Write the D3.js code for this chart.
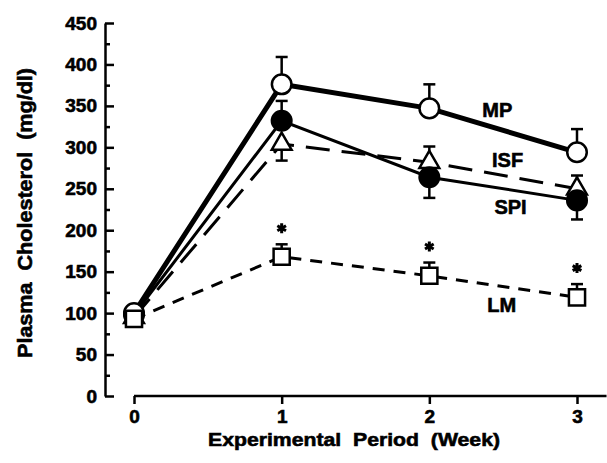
<!DOCTYPE html>
<html>
<head>
<meta charset="utf-8">
<script src="https://cdn.jsdelivr.net/npm/d3@7"></script>
<style>
  html, body { margin: 0; padding: 0; background: #fff; }
  svg { display: block; font-family: "Liberation Sans", Arial, Helvetica, sans-serif; font-weight: bold; }
  svg text { stroke: #000; stroke-width: 0.6px; }
</style>
</head>
<body>
<div id="chart"></div>
<script>
// data (mean, one-sided SE bar)
var weeks = [0, 1, 2, 3];
var mp_values  = [100, 376, 347, 294],
    mp_err     = [0, 33, 29, 28],
    mp_dir     = [1, 1, 1, 1];
var spi_values = [98, 332, 264, 236],
    spi_err    = [0, 24, 25, 23],
    spi_dir    = [1, 1, -1, -1];
var isf_values = [95, 304, 282, 250],
    isf_err    = [0, 20, 19, 16],
    isf_dir    = [-1, -1, 1, 1];
var lm_values  = [93, 168, 145, 119],
    lm_err     = [0, 15, 16, 16],
    lm_dir     = [1, 1, 1, 1];
var lm_signif  = [false, true, true, true];

var y_ticks = [0, 50, 100, 150, 200, 250, 300, 350, 400, 450],
    y_minor = [25, 75, 125, 175, 225, 275, 325, 375, 425],
    x_ticks = [0, 1, 2, 3];

// where the series names sit, in data units
var label_names = ["MP", "ISF", "SPI", "LM"],
    label_week  = [2.46, 2.53, 2.55, 2.49],
    label_value = [345, 285, 228, 110];

var svg_width = 607,
    svg_height = 463;

var x = d3.scaleLinear().domain([0, 3]).range([134, 577]);
var y = d3.scaleLinear().domain([0, 450]).range([396, 23]);

var svg = d3.select("#chart").append("svg")
    .attr("width", svg_width)
    .attr("height", svg_height);

// y axis: ticks point into the plot, labels on the left
var yAxis = svg.append("g")
    .attr("transform", "translate(105,0)")
    .call(d3.axisLeft(y).tickValues(y_ticks).tickSizeInner(-9).tickSizeOuter(0).tickPadding(8));
yAxis.select(".domain").attr("stroke-width", 2.5);
yAxis.selectAll(".tick line").attr("stroke-width", 2.5);
yAxis.selectAll(".tick text")
    .attr("font-size", "19px")
    .attr("font-weight", "bold")
    .attr("font-family", "Liberation Sans, Arial, sans-serif")
    .attr("fill", "#000");

svg.append("g")
    .attr("transform", "translate(105,0)")
    .call(d3.axisLeft(y).tickValues(y_minor).tickSizeInner(-5).tickSizeOuter(0).tickFormat(""))
    .call(function (g) {
        g.select(".domain").remove();
        g.selectAll(".tick line").attr("stroke-width", 2.5);
    });

// x axis: detached line that runs past week 3
var xAxis = svg.append("g")
    .attr("transform", "translate(0,396)")
    .call(d3.axisBottom(x).tickValues(x_ticks).tickSize(8).tickPadding(6).tickFormat(d3.format("d")));
xAxis.select(".domain").remove();
xAxis.selectAll(".tick line").attr("stroke-width", 2.5);
xAxis.selectAll(".tick text")
    .attr("font-size", "19px")
    .attr("font-weight", "bold")
    .attr("font-family", "Liberation Sans, Arial, sans-serif")
    .attr("fill", "#000");
xAxis.append("line")
    .attr("x1", x(0)).attr("x2", x(3.2))
    .attr("y1", 0).attr("y2", 0)
    .attr("stroke", "#000")
    .attr("stroke-width", 2.5);

// axis titles
svg.append("text")
    .attr("x", 354)
    .attr("y", 446)
    .attr("text-anchor", "middle")
    .attr("font-size", "19px")
    .attr("textLength", 292)
    .attr("lengthAdjust", "spacingAndGlyphs")
    .style("white-space", "pre")
    .text("Experimental  Period  (Week)");

svg.append("text")
    .attr("transform", "translate(32,213) rotate(-90)")
    .attr("text-anchor", "middle")
    .attr("font-size", "20px")
    .attr("textLength", 290)
    .attr("lengthAdjust", "spacingAndGlyphs")
    .style("white-space", "pre")
    .text("Plasma  Cholesterol  (mg/dl)");

var series = [
    {name: "ISF", values: isf_values, err: isf_err, dir: isf_dir, width: 3, dash: "24,12", mark: "triangle", fill: "#fff"},
    {name: "SPI", values: spi_values, err: spi_err, dir: spi_dir, width: 3, dash: null,    mark: "circle",   fill: "#000"},
    {name: "MP",  values: mp_values,  err: mp_err,  dir: mp_dir,  width: 5, dash: null,    mark: "circle",   fill: "#fff"},
    {name: "LM",  values: lm_values,  err: lm_err,  dir: lm_dir,  width: 3, dash: "12,9",  mark: "square",   fill: "#fff"}
];

var line = d3.line()
    .x(function (d, i) { return x(weeks[i]); })
    .y(function (d) { return y(d); });

// lines first
for (var i = 0; i < series.length; i++) {
    var s = series[i];
    svg.append("path")
        .attr("d", line(s.values))
        .attr("fill", "none")
        .attr("stroke", "#000")
        .attr("stroke-width", s.width)
        .attr("stroke-dasharray", s.dash);
}

// error bars
for (var i = 0; i < series.length; i++) {
    var s = series[i];
    for (var j = 0; j < weeks.length; j++) {
        if (!s.err[j]) continue;
        var end = s.values[j] + s.dir[j] * s.err[j];
        var g = svg.append("g").attr("stroke", "#000").attr("stroke-width", 2.5);
        g.append("line")
            .attr("x1", x(weeks[j])).attr("x2", x(weeks[j]))
            .attr("y1", y(s.values[j])).attr("y2", y(end));
        g.append("line")
            .attr("x1", x(weeks[j]) - 6).attr("x2", x(weeks[j]) + 6)
            .attr("y1", y(end)).attr("y2", y(end));
    }
}

// markers, drawn so the square sits on top at week 0
var symbolType = {circle: d3.symbolCircle, triangle: d3.symbolTriangle, square: d3.symbolSquare};
var symbolSize = {circle: 300, triangle: 170, square: 260};
for (var i = 0; i < series.length; i++) {
    var s = series[i];
    svg.append("g").selectAll("path")
        .data(s.values)
        .enter().append("path")
        .attr("transform", function (d, j) { return "translate(" + x(weeks[j]) + "," + y(d) + ")"; })
        .attr("d", d3.symbol().type(symbolType[s.mark]).size(symbolSize[s.mark]))
        .attr("fill", s.fill)
        .attr("stroke", "#000")
        .attr("stroke-width", 2.5);
}

// significance marks over LM
var star = d3.symbol().type(d3.symbolAsterisk || d3.symbolCross).size(70);
svg.append("g").selectAll("path")
    .data(weeks.filter(function (w, j) { return lm_signif[j]; }))
    .enter().append("path")
    .attr("transform", function (w) {
        var j = weeks.indexOf(w);
        return "translate(" + x(w) + "," + (y(lm_values[j] + lm_err[j]) - 16) + ")";
    })
    .attr("d", star)
    .attr("fill", "none")
    .attr("stroke", "#000")
    .attr("stroke-width", 3);

// series names
svg.append("g").selectAll("text")
    .data(label_names)
    .enter().append("text")
    .attr("x", function (d, i) { return x(label_week[i]); })
    .attr("y", function (d, i) { return y(label_value[i]); })
    .attr("dy", "0.36em")
    .attr("text-anchor", "middle")
    .attr("font-size", "20px")
    .text(function (d) { return d; });
</script>
</body>
</html>
